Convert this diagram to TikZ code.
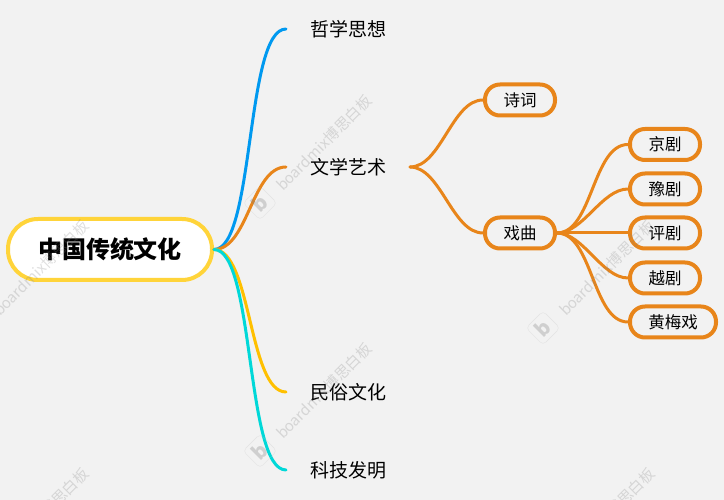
\documentclass[tikz,border=0pt]{standalone}
\usepackage{fontspec}
\setmainfont{Noto Sans CJK SC}
\usetikzlibrary{positioning}
\definecolor{pagegray}{HTML}{F2F2F2}
\definecolor{rootyellow}{HTML}{FFD43A}
\definecolor{artsorange}{HTML}{E8851A}
\definecolor{philblue}{HTML}{0099F0}
\definecolor{folkyellow}{HTML}{FFC000}
\definecolor{techcyan}{HTML}{00D8D8}
\begin{document}
\begin{tikzpicture}[
		x=1pt,y=1pt,
		rootbox/.style={
			rectangle,
			draw=rootyellow,
			fill=white,
			line width=4pt,
			rounded corners=30pt,
			minimum width=204pt,
			minimum height=61pt,
			inner sep=0pt,
			font=\fontsize{24}{24}\selectfont\bfseries
		},
		topic/.style={
			rectangle,
			inner xsep=24pt,
			inner ysep=2pt,
			outer sep=0pt,
			font=\fontsize{19}{19}\selectfont
		},
		item/.style={
			rectangle,
			draw=artsorange,
			line width=4pt,
			rounded corners=15pt,
			minimum width=70pt,
			minimum height=31pt,
			inner sep=0pt,
			font=\fontsize{16.5}{16.5}\selectfont
		},
		wideitem/.style={
			item,
			minimum width=86pt
		},
		link/.style={
			line width=3pt,
			line cap=round
		},
		wmtext/.style={
			rotate=45,
			text=gray,
			opacity=0.25,
			font=\fontsize{15}{15}\selectfont
		},
		wmlogo/.style={
			rectangle,
			rotate=45,
			draw=gray!50,
			text=gray,
			opacity=0.3,
			rounded corners=4pt,
			minimum size=24pt,
			inner sep=0pt,
			font=\fontsize{20}{20}\selectfont\bfseries
		}
		]
		
		\fill[pagegray] (0,0) rectangle (724,500);
		\clip (0,0) rectangle (724,500);
		
		\node[rootbox] (root) at (110,250.5) {中国传统文化};
		
		\node[topic, right=72pt of root.east, yshift=220.5pt] (phil) {哲学思想};
		\node[topic, right=72pt of root.east, yshift=82.5pt] (arts) {文学艺术};
		\node[topic, right=72pt of root.east, yshift=-142.5pt] (folk) {民俗文化};
		\node[topic, right=72pt of root.east, yshift=-220.5pt] (tech) {科技发明};
		
		\node[item, right=73pt of arts.east, yshift=67pt] (poem) {诗词};
		\node[item, right=73pt of arts.east, yshift=-66pt] (opera) {戏曲};
		
		\node[item, right=71pt of opera.east, yshift=88.5pt] (jing) {京剧};
		\node[item, right=71pt of opera.east, yshift=44pt] (yu) {豫剧};
		\node[item, right=71pt of opera.east] (ping) {评剧};
		\node[item, right=71pt of opera.east, yshift=-45pt] (yue) {越剧};
		\node[wideitem, right=71pt of opera.east, yshift=-89pt] (huang) {黄梅戏};
		
		\draw[link, philblue] (root.east) to[out=0,in=180,looseness=0.45] (phil.west);
		\draw[link, artsorange] (root.east) to[out=0,in=180,looseness=0.8] (arts.west);
		\draw[link, folkyellow] (root.east) to[out=0,in=180,looseness=0.6] (folk.west);
		\draw[link, techcyan] (root.east) to[out=0,in=180,looseness=0.45] (tech.west);
		
		\draw[link, artsorange] (arts.east) to[out=0,in=180,looseness=0.8] (poem.west);
		\draw[link, artsorange] (arts.east) to[out=0,in=180,looseness=0.8] (opera.west);
		
		\draw[link, artsorange] (opera.east) to[out=0,in=180,looseness=0.8] (jing.west);
		\draw[link, artsorange] (opera.east) to[out=0,in=180,looseness=0.8] (yu.west);
		\draw[link, artsorange] (opera.east) -- (ping.west);
		\draw[link, artsorange] (opera.east) to[out=0,in=180,looseness=0.8] (yue.west);
		\draw[link, artsorange] (opera.east) to[out=0,in=180,looseness=0.8] (huang.west);
		
		% watermark
		\foreach \wx/\wy [count=\wi] in {324/357,41/232,607/232,324/109,41/-16,607/-16} {
			\node[wmtext] (wm\wi) at (\wx,\wy) {boardmix博思白板};
			\node[wmlogo] (wl\wi) at (\wx-64,\wy-60) {b};
		}
		
	\end{tikzpicture}
\end{document}
